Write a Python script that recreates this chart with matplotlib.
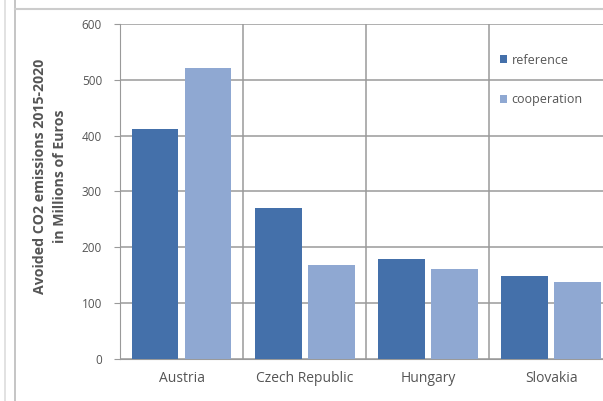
import numpy as np
import matplotlib
matplotlib.use('Agg')
import matplotlib.pyplot as plt
from matplotlib.lines import Line2D

countries = ["Austria", "Czech Republic", "Hungary", "Slovakia"]
reference = [412, 270, 179, 148]
cooperation = [521, 169, 161, 138]
series_names = ["reference", "cooperation"]
yticks = [0, 100, 200, 300, 400, 500, 600]

ref_color = '#4470aa'
coop_color = '#8fa8d2'
grid_color = '#9a9a9a'
text_color = '#555555'

plt.rcParams['font.family'] = ['Open Sans', 'DejaVu Sans']

fig = plt.figure(figsize=(6.03, 4.01), dpi=100)
ax = fig.add_axes([0.199, 0.105, 0.817, 0.835])

x = np.arange(len(countries))
w = 0.38
ax.bar(x - 0.215, reference, w, color=ref_color, label=series_names[0], zorder=3)
ax.bar(x + 0.215, cooperation, w, color=coop_color, label=series_names[1], zorder=3)

ax.set_xlim(-0.5, 3.5)
ax.set_ylim(0, 600)
ax.set_yticks(yticks)
ax.set_xticks(x)
ax.set_xticklabels(countries)
ax.tick_params(axis='both', colors=grid_color, labelcolor=text_color)
ax.tick_params(axis='x', length=0, pad=9, labelsize=10)
ax.tick_params(axis='y', length=4, direction='out', pad=9, labelsize=8.5)

ax.yaxis.grid(True, color=grid_color, lw=1.1, zorder=0)
for sep in [0.5, 1.5, 2.5]:
    ax.axvline(sep, color=grid_color, lw=1.1, zorder=1)

for side in ['top', 'right']:
    ax.spines[side].set_visible(False)
ax.spines['left'].set_color(grid_color)
ax.spines['bottom'].set_color(grid_color)

fig.text(50/603, 1 - 176/401, "Avoided CO2 emissions 2015-2020\nin Millions of Euros",
         rotation=90, ha='center', va='center', multialignment='center',
         fontsize=10.2, fontweight='bold', color=text_color, linespacing=1.6)

leg = ax.legend(loc='upper left', bbox_to_anchor=(0.748, 0.945), frameon=False,
                fontsize=9, handlelength=0.6, handleheight=0.6, handletextpad=0.35,
                labelspacing=2.1)
for t in leg.get_texts():
    t.set_color(text_color)

# outer frame lines of the original figure
fig.add_artist(Line2D([5/603, 5/603], [0, 1], color='#dddddd', lw=1.2))
fig.add_artist(Line2D([15/603, 15/603], [0, 1], color='#bbbbbb', lw=1.2))
fig.add_artist(Line2D([15/603, 1], [1 - 9/401, 1 - 9/401], color='#cccccc', lw=1.5))

fig.savefig('out.png', dpi=100)
